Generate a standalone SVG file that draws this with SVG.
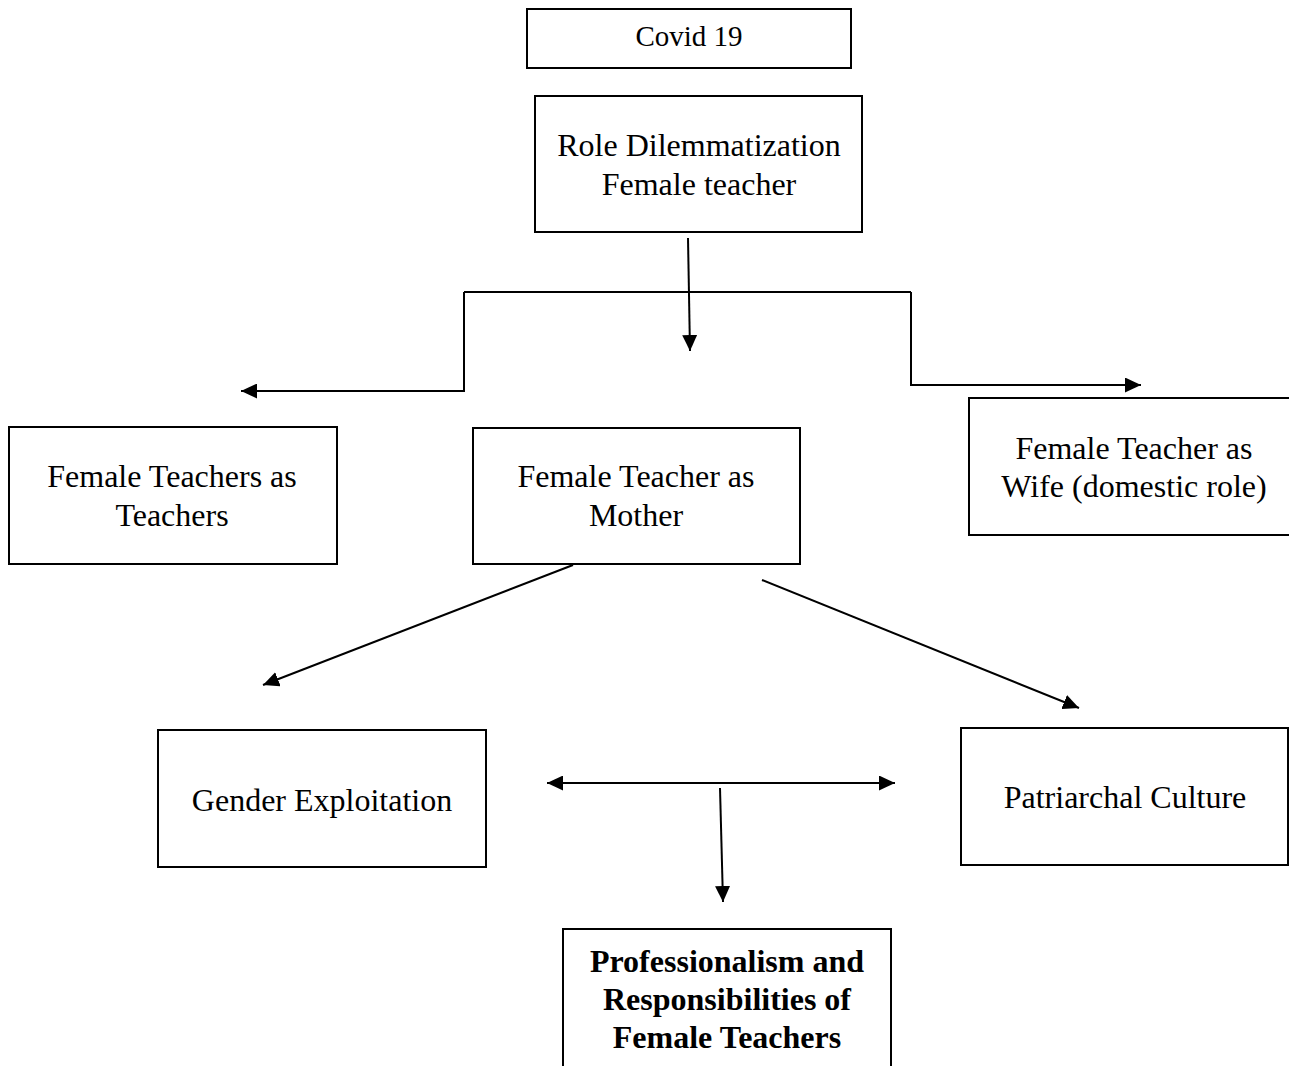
<svg xmlns="http://www.w3.org/2000/svg" width="1289" height="1066" viewBox="0 0 1289 1066">
<style>
.box{fill:#fff;stroke:#000;stroke-width:2}
.t{font-family:"Liberation Serif","Times New Roman",serif;font-size:32px;fill:#000;text-anchor:middle}
.b{font-weight:bold}
.c{fill:none;stroke:#000;stroke-width:2}
</style>
<defs>
<marker id="ah" markerUnits="userSpaceOnUse" markerWidth="17" markerHeight="15" refX="16" refY="7.5" orient="auto-start-reverse">
<path d="M0,0 L16,7.5 L0,15 z" fill="#000"/>
</marker>
</defs>
<rect width="1289" height="1066" fill="#fff"/>
<g id="covid">
<rect class="box" x="527" y="9" width="324" height="59"/>
<text class="t" x="689" y="46" style="font-size:29px">Covid 19</text>
</g>
<g id="role">
<rect class="box" x="535" y="96" width="327" height="136"/>
<text class="t" x="699" y="156">Role Dilemmatization</text>
<text class="t" x="699" y="195">Female teacher</text>
</g>
<g id="teachers">
<rect class="box" x="9" y="427" width="328" height="137"/>
<text class="t" x="172" y="487">Female Teachers as</text>
<text class="t" x="172" y="526">Teachers</text>
</g>
<g id="mother">
<rect class="box" x="473" y="428" width="327" height="136"/>
<text class="t" x="636" y="487">Female Teacher as</text>
<text class="t" x="636" y="526">Mother</text>
</g>
<g id="wife">
<rect class="box" x="969" y="398" width="330" height="137"/>
<text class="t" x="1134" y="459">Female Teacher as</text>
<text class="t" x="1134" y="497">Wife (domestic role)</text>
</g>
<g id="gender">
<rect class="box" x="158" y="730" width="328" height="137"/>
<text class="t" x="322" y="811">Gender Exploitation</text>
</g>
<g id="patriarchal">
<rect class="box" x="961" y="728" width="327" height="137"/>
<text class="t" x="1125" y="808">Patriarchal Culture</text>
</g>
<g id="professionalism">
<rect class="box" x="563" y="929" width="328" height="150"/>
<text class="t b" x="727" y="972">Professionalism and</text>
<text class="t b" x="727" y="1010">Responsibilities of</text>
<text class="t b" x="727" y="1048">Female Teachers</text>
</g>
<g id="connectors">
<path class="c" d="M688,238 L690,351" marker-end="url(#ah)"/>
<path class="c" d="M464,292 L911,292"/>
<path class="c" d="M464,292 L464,391 L241,391" marker-end="url(#ah)"/>
<path class="c" d="M911,292 L911,385 L1141,385" marker-end="url(#ah)"/>
<path class="c" d="M573,565 L263,685" marker-end="url(#ah)"/>
<path class="c" d="M762,580 L1079,708" marker-end="url(#ah)"/>
<path class="c" d="M547,783 L895,783" marker-start="url(#ah)" marker-end="url(#ah)"/>
<path class="c" d="M720,788 L723,902" marker-end="url(#ah)"/>
</g>
</svg>
